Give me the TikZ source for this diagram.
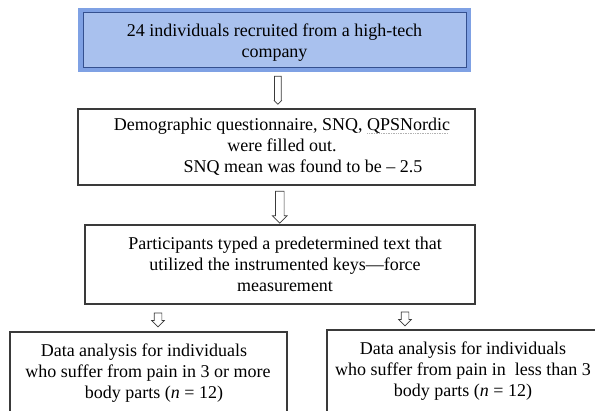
\documentclass[tikz,border=0pt]{standalone}
\usepackage{fontspec}
\setmainfont{Liberation Serif}
\usetikzlibrary{shapes.arrows,calc}
\definecolor{boxblue}{HTML}{A9C1EE}
\definecolor{bandblue}{HTML}{7FA1E4}
\definecolor{navy}{HTML}{34508F}
\definecolor{edge}{HTML}{3A3A3A}
\newcommand\spellmark[1]{\setbox0\hbox{#1}\rlap{\textcolor{gray!60}{\raisebox{-3.2pt}{\makebox[\wd0][l]{\leaders\hbox{\rule{0.8pt}{0.5pt}\kern0.9pt}\hfill}}}}\box0}
\tikzset{
  txt/.style={align=center, font=\fontsize{18}{21}\selectfont, inner sep=0pt},
  plainbox/.style={draw=edge, line width=1.1pt, fill=white, inner sep=0pt},
  blockarrow/.style={single arrow, draw=edge, fill=white, line width=0.7pt,
    rotate=-90, inner xsep=0pt, anchor=center, single arrow tip angle=90}
}
\begin{document}
\begin{tikzpicture}[x=1pt,y=-1pt]
\useasboundingbox (0,0) rectangle (595,411);
\fill[white] (0,0) rectangle (595,411);
\clip (0,0) rectangle (595,411);

% top box
\node[fill=bandblue, minimum width=393pt, minimum height=64pt, inner sep=0pt] (top) at (274.5,40) {};
\node[fill=boxblue, draw=navy, line width=1pt, minimum width=383pt, minimum height=55pt, inner sep=0pt] (topin) at (275,40.5) {};
\node[txt] (toptxt) at (274.5,43) {24 individuals recruited from a high-tech\\company};

% second box
\node[plainbox, minimum width=397pt, minimum height=76pt] (b2) at (276.5,147) {};
\node[txt] (b2txt) at (282,146.5) {Demographic questionnaire, SNQ, \spellmark{QPSNordic}\\were filled out.\\\hspace*{42pt}SNQ mean was found to be -- 2.5};

% third box
\node[plainbox, minimum width=390pt, minimum height=79pt] (b3) at (280,264.5) {};
\node[txt] (b3txt) at (285,264) {Participants typed a predetermined text that\\utilized the instrumented keys---force\\measurement};

% bottom boxes (cut off by the page edge)
\node[plainbox, minimum width=277pt, minimum height=100pt] (b4a) at (148.5,382) {};
\node[txt] (b4atxt) at (148,373) {Data analysis for individuals\hspace*{8pt}\\who suffer from pain in 3 or more\\\hspace*{12pt}body parts (\textit{n} = 12)};
\node[plainbox, minimum width=278pt, minimum height=100pt] (b4b) at (466,380) {};
\node[txt] (b4btxt) at (463,371.5) {Data analysis for individuals\\who suffer from pain in\ \ less than 3\\body parts (\textit{n} = 12)};
\coordinate (kink) at (573,329.4);
\draw[edge, line width=1.6pt] (kink) -- (kink -| b4b.north east);

% block arrows
\node[blockarrow, minimum height=28pt, inner ysep=3pt, single arrow head extend=0.01pt] (a1)
  at ([xshift=2.5pt]$(top.south)!0.45!(b2.north)$) {};
\node[blockarrow, minimum height=32pt, inner ysep=4pt, single arrow head extend=3pt] (a2)
  at ([xshift=1.5pt]$(b2.south)!0.5!(b3.north)$) {};
\node[blockarrow, minimum height=14pt, inner ysep=3.5pt, single arrow head extend=2.5pt] (a3)
  at ([xshift=9.5pt]$(b3.south -| b4a.north)!0.5!(b4a.north)$) {};
\node[blockarrow, minimum height=14pt, inner ysep=3.5pt, single arrow head extend=2.5pt] (a4)
  at ([xshift=-61pt]$(b3.south -| b4b.north)!0.5!(b4b.north)$) {};
\end{tikzpicture}
\end{document}
